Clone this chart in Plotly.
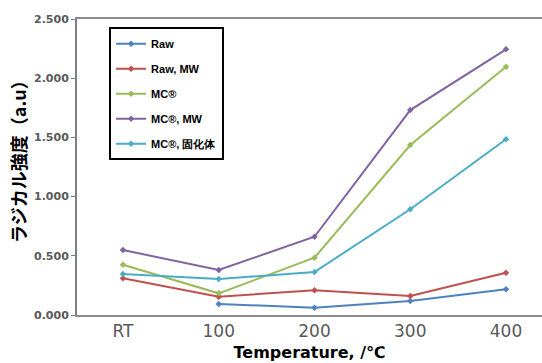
import plotly.graph_objects as go

categories = ["RT", "100", "200", "300", "400"]
series_names = ["Raw", "Raw, MW", "MC®", "MC®, MW", "MC®, 固化体"]
raw = [None, 0.093, 0.062, 0.118, 0.217]
raw_mw = [0.31, 0.155, 0.208, 0.160, 0.357]
mc = [0.425, 0.183, 0.484, 1.436, 2.097]
mc_mw = [0.549, 0.380, 0.661, 1.731, 2.244]
mc_solid = [0.346, 0.304, 0.363, 0.893, 1.484]
series_values = [raw, raw_mw, mc, mc_mw, mc_solid]
colors = ["#4F81BD", "#C0504D", "#9BBB59", "#8064A2", "#4BACC6"]
y_ticks = [0, 0.5, 1.0, 1.5, 2.0, 2.5]
y_ticktext = ["0.000", "0.500", "1.000", "1.500", "2.000", "2.500"]

fig = go.Figure()
for i, (name, vals, col) in enumerate(zip(series_names, series_values, colors)):
    fig.add_trace(go.Scatter(
        x=categories, y=vals, name=name, mode="lines+markers",
        line=dict(color=col, width=2), marker=dict(color=col, size=5, symbol="diamond"),
        connectgaps=False, legendgroup=f"g{i}",
    ))

fig.update_layout(
    width=542, height=363,
    margin=dict(l=77, r=0, t=19, b=48),
    paper_bgcolor="white", plot_bgcolor="white",
    showlegend=True,
    legend=dict(
        x=0.069, y=0.972, xanchor="left", yanchor="top",
        bordercolor="black", borderwidth=2, bgcolor="white",
        font=dict(family="Liberation Sans", size=11, color="black", weight="bold"),
        traceorder="grouped", tracegroupgap=6,
        itemwidth=30,
    ),
    xaxis=dict(
        type="category", range=[-0.48, 4.376],
        showline=True, linecolor="#8c8c8c", linewidth=2, mirror=True,
        showgrid=False, ticks="", zeroline=False,
        tickfont=dict(family="DejaVu Sans", size=17, color="#595959"),
        title=dict(text="Temperature, /℃", standoff=6,
                   font=dict(family="DejaVu Sans", size=16, color="black", weight="bold")),
    ),
    yaxis=dict(
        range=[0, 2.5], tickvals=y_ticks, ticktext=y_ticktext,
        showline=True, linecolor="#7f7f7f", linewidth=2,
        showgrid=False, zeroline=False, ticks="outside", ticklen=4, tickcolor="#7f7f7f",
        tickfont=dict(family="DejaVu Sans", size=11, color="#595959", weight="bold"),
    ),
)
fig.add_annotation(
    text="ラジカル強度（a.u）", textangle=-90, xref="paper", yref="paper",
    x=-0.127, y=0.534, showarrow=False, xanchor="center", yanchor="middle",
    font=dict(family="Noto Sans CJK JP", size=18, color="black", weight="bold"),
)
fig.write_html("out.html")
